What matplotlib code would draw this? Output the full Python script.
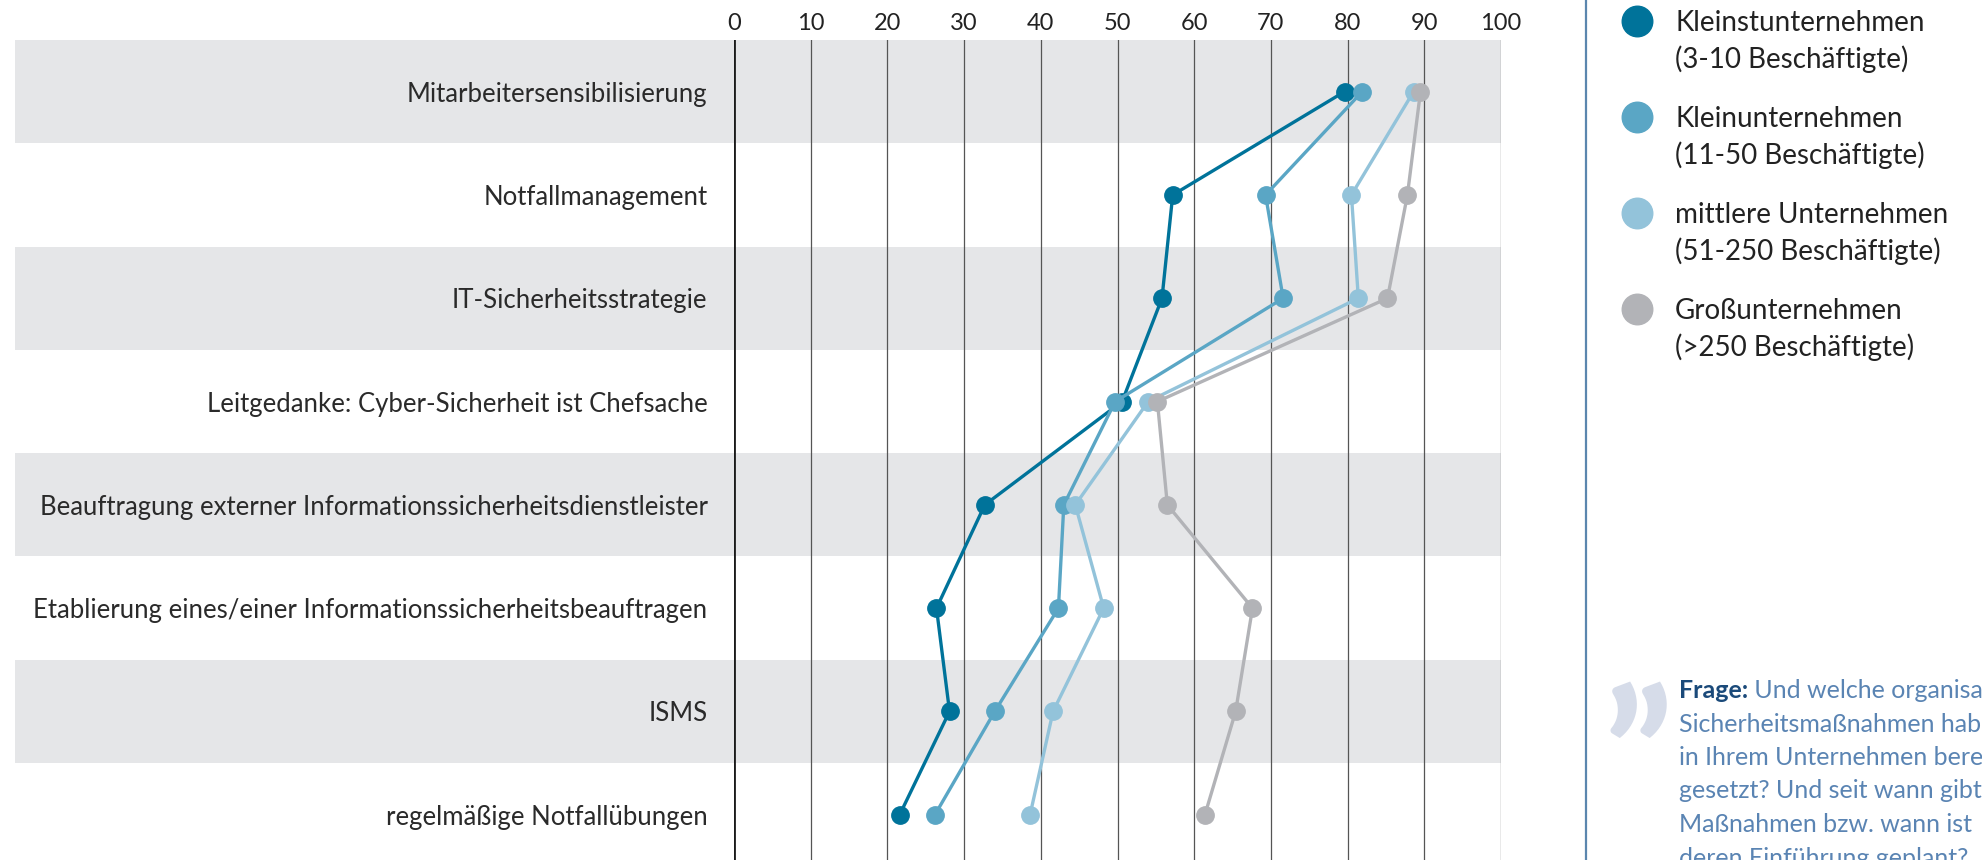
import matplotlib
matplotlib.use('Agg')
import matplotlib.pyplot as plt

plt.rcParams['font.family'] = ['Lato', 'DejaVu Sans']

# daten (anteile in prozent)
massnahmen = [
    'Mitarbeitersensibilisierung',
    'Notfallmanagement',
    'IT-Sicherheitsstrategie',
    'Leitgedanke: Cyber-Sicherheit ist Chefsache',
    'Beauftragung externer Informationssicherheitsdienstleister',
    'Etablierung eines/einer Informationssicherheitsbeauftragen',
    'ISMS',
    'regelmäßige Notfallübungen',
]
kleinst = [79.6, 57.2, 55.8, 50.6, 32.7, 26.4, 28.1, 21.6]
klein = [81.9, 69.3, 71.6, 49.7, 43.0, 42.3, 34.0, 26.2]
mittel = [88.6, 80.5, 81.4, 54.0, 44.5, 48.2, 41.6, 38.6]
gross = [89.5, 87.8, 85.2, 55.2, 56.5, 67.6, 65.4, 61.4]
gruppen = [
    'Kleinstunternehmen\n(3-10 Beschäftigte)',
    'Kleinunternehmen\n(11-50 Beschäftigte)',
    'mittlere Unternehmen\n(51-250 Beschäftigte)',
    'Großunternehmen\n(>250 Beschäftigte)',
]
farben = ['#00739a', '#5aa6c5', '#93c3da', '#b2b3b7']
ticks = list(range(0, 101, 10))
frage = ['Sicherheitsmaßnahmen haben Sie',
         'in Ihrem Unternehmen bereits um-',
         'gesetzt? Und seit wann gibt es diese',
         'Maßnahmen bzw. wann ist',
         'deren Einführung geplant?']

W, H = 1982, 860
fig = plt.figure(figsize=(W / 100, H / 100), dpi=100)

# hauptdiagramm
ax = fig.add_axes([734 / W, 0, 767 / W, 820 / H])
ax.set_xlim(0, 100)
ax.set_ylim(-0.5 + 820 / 103.3, -0.5)
for s in ax.spines.values():
    s.set_visible(False)

# graue streifen, reichen bis fast an den linken rand
for i in range(0, len(massnahmen), 2):
    ax.axhspan(i - 0.5, i + 0.5, xmin=(15 - 734) / 767, xmax=1,
               color='#e5e6e8', lw=0, zorder=0, clip_on=False)

for t in ticks[1:]:
    ax.axvline(t, color='#555555', lw=0.9, zorder=1)
ax.axvline(0, color='#1a1a1a', lw=2, zorder=2)

ax.xaxis.tick_top()
ax.set_xticks(ticks)
ax.tick_params(axis='x', length=0, pad=4, labelsize=17, labelcolor='#222222')
ax.set_yticks(range(len(massnahmen)), massnahmen)
ax.tick_params(axis='y', length=0, pad=19, labelsize=18.5, labelcolor='#2a2a2a')

for werte, farbe in zip([kleinst, klein, mittel, gross], farben):
    ax.plot(werte, range(len(werte)), color=farbe, lw=2.4, marker='o',
            ms=12.5, zorder=3, clip_on=False)

# rechte spalte: legende und frage
lax = fig.add_axes([0, 0, 1, 1])
lax.set_xlim(0, W)
lax.set_ylim(H, 0)
lax.axis('off')

lax.axvline(1586, color='#5b86ae', lw=1.6)

for i, (name, farbe) in enumerate(zip(gruppen, farben)):
    y = 21 + 96 * i
    lax.plot(1637, y, 'o', ms=22, color=farbe)
    for k, zeile in enumerate(name.split('\n')):
        lax.text(1675, y + 10 + 37 * k, zeile, va='baseline', ha='left',
                 fontsize=20, color='#222222')

lax.text(1638, 816, '\u201d', ha='center', va='baseline', fontsize=125,
         fontweight='black', color='#d6dce9')
t = lax.text(1679, 698, 'Frage:', ha='left', va='baseline', fontsize=18,
             fontweight='bold', color='#1b4a7a')
lax.annotate(' Und welche organisatorischen', xy=(1, 0), xycoords=t,
             ha='left', va='bottom', fontsize=18, color='#5a84b3')
for k, zeile in enumerate(frage):
    lax.text(1679, 698 + 33.5 * (k + 1), zeile, ha='left', va='baseline',
             fontsize=18, color='#5a84b3')

fig.savefig('out.png', dpi=100)
